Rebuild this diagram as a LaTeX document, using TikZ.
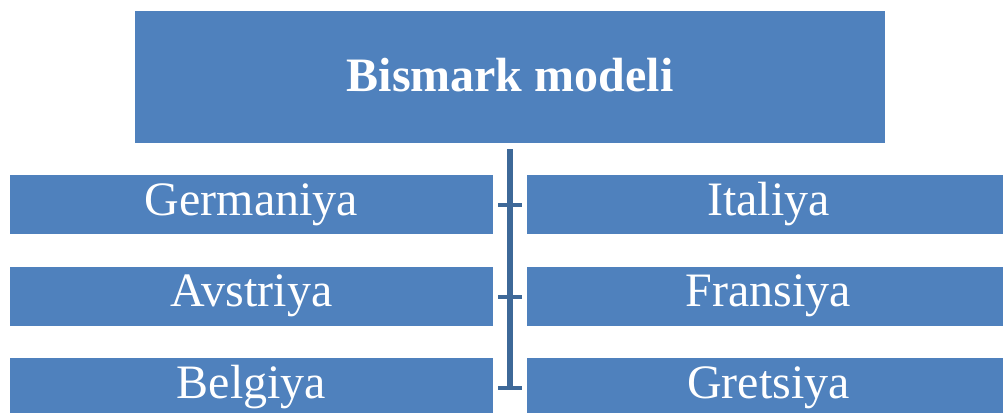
\documentclass[tikz,border=0pt]{standalone}
\usepackage{fontspec}
\setmainfont{Liberation Serif}
\definecolor{boxblue}{HTML}{4F81BD}
\definecolor{linkblue}{HTML}{3D6898}
\begin{document}
\begin{tikzpicture}[x=1pt,y=-1pt,
  box/.style={fill=boxblue,draw=none,text=white,inner sep=0pt,
    font=\fontsize{48}{56}\selectfont},
  rowbox/.style={box,minimum width=483pt,minimum height=59pt},
  link/.style={draw=linkblue,line width=6.5pt},
  tick/.style={draw=linkblue,line width=4.5pt}]
\useasboundingbox (0,0) rectangle (1003,412);
\node[box,minimum width=750pt,minimum height=132pt] (top) at (510,77) {};
\node[box,fill=none,font=\fontsize{48}{56}\selectfont\bfseries] (title) at (510,75.5) {Bismark modeli};
\node[rowbox] (l1) at (251.5,204.5) {Germaniya};
\node[rowbox] (l2) at (251.5,296) {Avstriya};
\node[rowbox] (l3) at (251.5,387.5) {Belgiya};
\node[rowbox] (r1) at (768.5,204.5) {Italiya};
\node[rowbox] (r2) at (768.5,296) {Fransiya};
\node[rowbox] (r3) at (768.5,387.5) {Gretsiya};
\coordinate (vtop) at (510,149);
\coordinate (vbot) at (510,390.25);
\coordinate (t1l) at (498,205); \coordinate (t1r) at (522,205);
\coordinate (t2l) at (498,297); \coordinate (t2r) at (522,297);
\coordinate (t3l) at (498,388); \coordinate (t3r) at (522,388);
\draw[link] (vtop) -- (vbot);
\draw[tick] (t1l) -- (t1r);
\draw[tick] (t2l) -- (t2r);
\draw[tick] (t3l) -- (t3r);
\end{tikzpicture}
\end{document}
